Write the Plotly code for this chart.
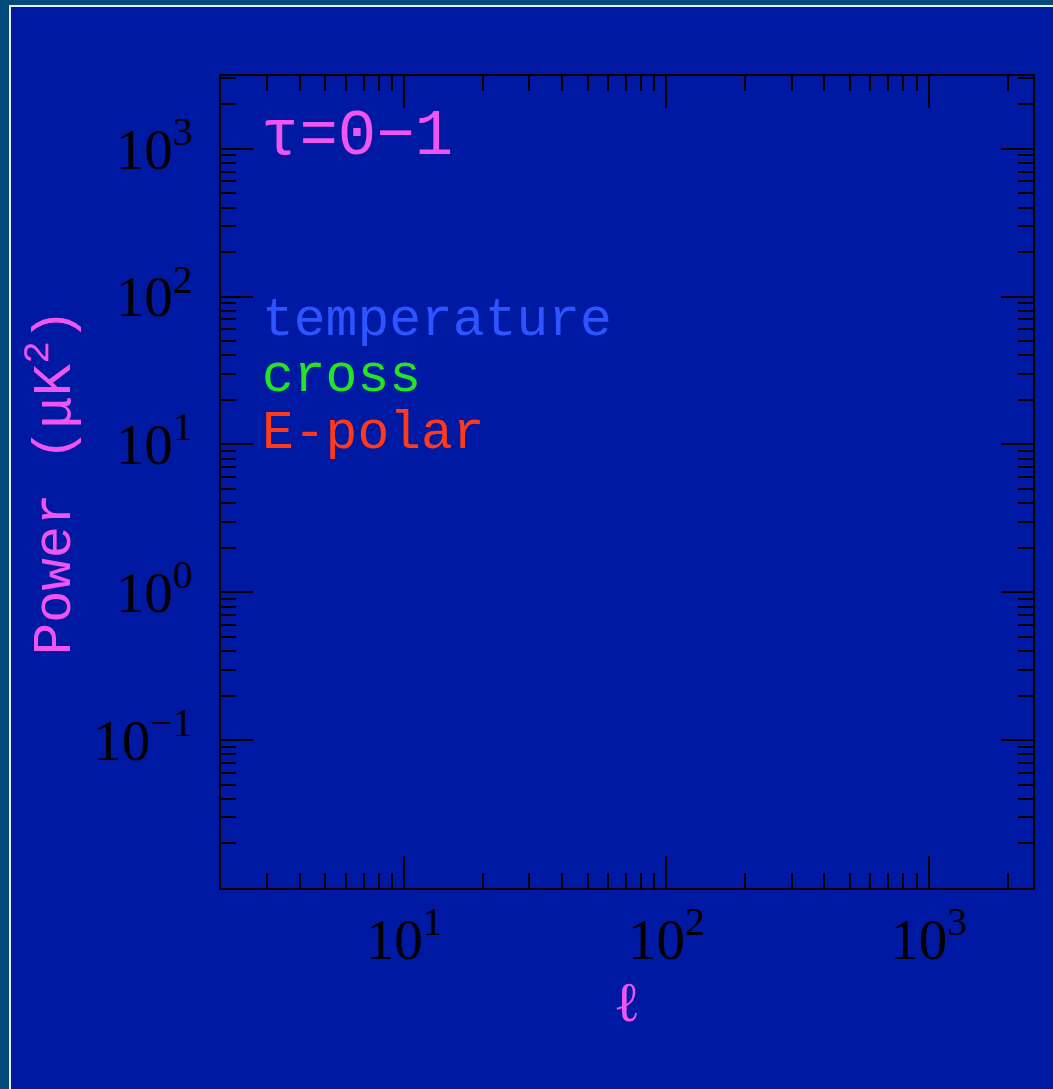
import math
import plotly.graph_objects as go

# ---- data (the reference panel is empty: only axes and legend labels) ----
panel_label = "τ=0−1"
series_names = ["temperature", "cross", "E-polar"]
series_colors = ["#2C55FF", "#22E622", "#FF3A1A"]

x_range_vals = [2, 2500]
y_range_vals = [0.01, 3100]

x_tick_vals = [10, 100, 1000]
x_tick_text = ["10<sup>1</sup>", "10<sup>2</sup>", "10<sup>3</sup>"]
y_tick_vals = [0.1, 1, 10, 100, 1000]
y_tick_text = ["10<sup>−1</sup>", "10<sup>0</sup>", "10<sup>1</sup>", "10<sup>2</sup>", "10<sup>3</sup>"]

x_title = "ℓ"
y_title = "Power (μK<sup>2</sup>)"


def minor_vals(lo, hi):
    out = []
    for e in range(int(math.floor(math.log10(lo))) - 1, int(math.ceil(math.log10(hi))) + 1):
        for m in range(2, 10):
            v = m * 10 ** e
            if lo <= v <= hi:
                out.append(v)
    return out


BLUE = "#0019A3"
OUTER = "#034B7C"
MAG = "#F055F0"
W, H = 1053, 1089
L, R, T, B = 221, 20, 76, 201
PW = W - L - R
PH = H - T - B


def px_to_paper_x(px):
    return (px - L) / PW


def px_to_paper_y(py):
    return (H - B - py) / PH


fig = go.Figure()
fig.add_trace(go.Scatter(x=[], y=[], mode="lines", showlegend=False))

axis_common = dict(
    type="log",
    showgrid=False,
    zeroline=False,
    showline=True,
    linecolor="black",
    linewidth=2,
    mirror="allticks",
    ticks="inside",
    ticklen=32,
    tickwidth=2,
    tickcolor="black",
    tickfont=dict(family="Liberation Serif", size=57, color="black"),
)

fig.update_xaxes(
    **axis_common,
    ticklabelstandoff=1,
    range=[math.log10(x_range_vals[0]), math.log10(x_range_vals[1])],
    tickmode="array", tickvals=x_tick_vals, ticktext=x_tick_text,
    minor=dict(tickmode="array", tickvals=minor_vals(*x_range_vals),
               ticks="inside", ticklen=15, tickwidth=2, tickcolor="black"),
    title=dict(text=x_title, font=dict(family="Liberation Serif", size=56, color=MAG), standoff=7),
)
fig.update_yaxes(
    **axis_common,
    ticklabelstandoff=15,
    range=[math.log10(y_range_vals[0]), math.log10(y_range_vals[1])],
    tickmode="array", tickvals=y_tick_vals, ticktext=y_tick_text,
    minor=dict(tickmode="array", tickvals=minor_vals(*y_range_vals),
               ticks="inside", ticklen=15, tickwidth=2, tickcolor="black"),
    title=dict(text=y_title, font=dict(family="Liberation Mono", size=54, color=MAG), standoff=5),
)

# inner panel with white border
fig.add_shape(type="rect", xref="paper", yref="paper", layer="below",
              x0=px_to_paper_x(10), x1=px_to_paper_x(W + 20),
              y0=px_to_paper_y(H + 20), y1=px_to_paper_y(6),
              fillcolor=BLUE, line=dict(color="#E8EEF5", width=2))

annotations = [dict(text=panel_label, x=px_to_paper_x(259), y=px_to_paper_y(137),
                    font=dict(family="Liberation Mono", size=64, color=MAG))]
label_rows_px = [321, 377, 434]
for name, col, ypx in zip(series_names, series_colors, label_rows_px):
    annotations.append(dict(text=name, x=px_to_paper_x(260), y=px_to_paper_y(ypx),
                            font=dict(family="Liberation Mono", size=53, color=col)))
for a in annotations:
    a.update(xref="paper", yref="paper", xanchor="left", yanchor="middle", showarrow=False)
fig.update_layout(annotations=annotations)

fig.update_layout(
    width=W, height=H,
    margin=dict(l=L, r=R, t=T, b=B, pad=0),
    paper_bgcolor=OUTER,
    plot_bgcolor=BLUE,
    showlegend=False,
)

fig.write_html(
    "out.html",
    config={"displayModeBar": False},
    post_script="document.body.style.margin='0';document.body.style.overflow='hidden';"
                "document.body.style.background='" + OUTER + "';",
)
